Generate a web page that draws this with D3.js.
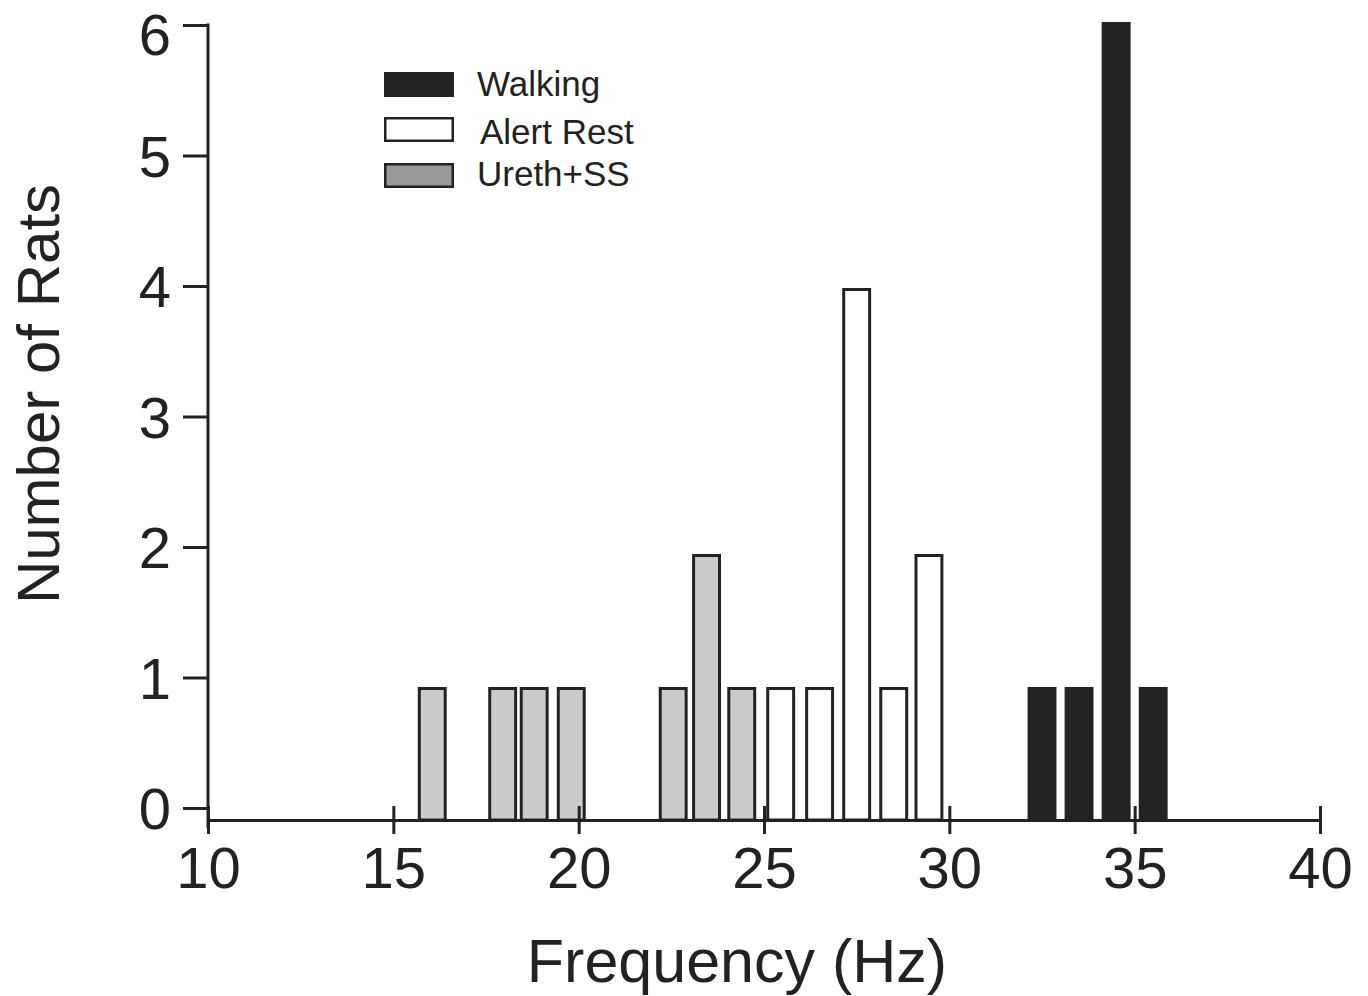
<!DOCTYPE html>
<html>
<head>
<meta charset="utf-8">
<script src="https://cdn.jsdelivr.net/npm/d3@7"></script>
<style>
  body { margin: 0; background: #fff; }
  text { font-family: "Liberation Sans", Arial, sans-serif; fill: #222; }
</style>
</head>
<body>
<div id="vis"></div>
<script>
// histogram of peak frequency per rat, three conditions
const seriesNames = ["Walking", "Alert Rest", "Ureth+SS"];
const walkingHz = [32.5, 33.5, 34.5, 35.5];
const walkingCount = [1, 1, 6, 1];
const alertHz = [25.45, 26.5, 27.5, 28.5, 29.45];
const alertCount = [1, 1, 4, 1, 2];
const urethHz = [16.05, 17.95, 18.8, 19.8, 22.55, 23.45, 24.4];
const urethCount = [1, 1, 1, 1, 1, 2, 1];
const xTicks = [10, 15, 20, 25, 30, 35, 40];
const yTicks = [0, 1, 2, 3, 4, 5, 6];

const width = 1368, height = 996;
const binWidth = 0.78; // Hz

const styles = {
  "Walking": { fill: "#222", stroke: "none", sw: 0 },
  "Alert Rest": { fill: "#fff", stroke: "#222", sw: 3 },
  "Ureth+SS": { fill: "#cbcbcb", stroke: "#222", sw: 3 }
};

var svg = d3.select("#vis").append("svg")
  .attr("width", width)
  .attr("height", height);

var x = d3.scaleLinear().domain([10, 40]).range([208, 1320]);
// tick scale and bar scale are slightly offset in the original figure
var yTick = d3.scaleLinear().domain([0, 6]).range([808, 25]);
var yBar = d3.scaleLinear().domain([0, 6]).range([820, 22]);
const baseY = 820;

// build rows for the bars
var bars = [];
function addSeries(name, hz, counts) {
  hz.forEach(function (h, i) {
    bars.push({ series: name, hz: h, count: counts[i] });
  });
}
addSeries("Ureth+SS", urethHz, urethCount);
addSeries("Alert Rest", alertHz, alertCount);
addSeries("Walking", walkingHz, walkingCount);

svg.append("g").attr("class", "bars")
  .selectAll("rect")
  .data(bars)
  .enter()
  .append("rect")
  .attr("x", function (d) { return x(d.hz - binWidth / 2) + styles[d.series].sw / 2; })
  .attr("width", function (d) { return x(d.hz + binWidth / 2) - x(d.hz - binWidth / 2) - styles[d.series].sw; })
  .attr("y", function (d) { return yBar(d.count) + styles[d.series].sw / 2; })
  .attr("height", function (d) { return baseY - yBar(d.count) - styles[d.series].sw / 2; })
  .attr("fill", function (d) { return styles[d.series].fill; })
  .attr("stroke", function (d) { return styles[d.series].stroke; })
  .attr("stroke-width", function (d) { return styles[d.series].sw; });

// x axis
var gx = svg.append("g")
  .attr("transform", "translate(0," + baseY + ")")
  .call(d3.axisBottom(x).tickValues(xTicks).tickSize(14).tickSizeOuter(0).tickPadding(10));
gx.select(".domain").attr("stroke", "#222").attr("stroke-width", 3);
gx.selectAll(".tick line").attr("y1", -14).attr("stroke", "#222").attr("stroke-width", 3);
gx.selectAll(".tick text")
  .attr("font-family", "Liberation Sans, Arial, sans-serif")
  .attr("font-size", 58)
  .attr("fill", "#222")
  .attr("dy", null)
  .attr("y", 68);

// y axis
var gy = svg.append("g")
  .attr("transform", "translate(" + x(10) + ",0)")
  .call(d3.axisLeft(yTick).tickValues(yTicks).tickSize(25).tickPadding(12).tickFormat(d3.format("d")));
gy.select(".domain").remove();
gy.selectAll(".tick line").attr("stroke", "#222").attr("stroke-width", 3);
gy.selectAll(".tick text")
  .attr("font-family", "Liberation Sans, Arial, sans-serif")
  .attr("font-size", 58)
  .attr("fill", "#222")
  .attr("dy", "0.36em");
// top label sits a little lower so it isn't clipped
gy.selectAll(".tick text").filter(function (d) { return d === 6; }).attr("y", 9);
svg.append("line")
  .attr("x1", x(10)).attr("x2", x(10))
  .attr("y1", yTick(6) - 1.5).attr("y2", baseY + 8)
  .attr("stroke", "#222").attr("stroke-width", 3);

// axis titles
svg.append("text")
  .attr("x", 737)
  .attr("y", 982)
  .attr("text-anchor", "middle")
  .attr("font-size", 61)
  .attr("fill", "#2a2a2a")
  .text("Frequency (Hz)");

svg.append("text")
  .attr("transform", "translate(59,394) rotate(-90)")
  .attr("text-anchor", "middle")
  .attr("font-size", 60)
  .attr("fill", "#2a2a2a")
  .text("Number of Rats");

// legend
const legendY = [72, 117, 163];
const legendText = [96, 144, 186];
const legendFill = { "Walking": "#222", "Alert Rest": "#fff", "Ureth+SS": "#999" };
var legend = svg.append("g").attr("class", "legend");
seriesNames.forEach(function (name, i) {
  var sw = name === "Walking" ? 0 : 2.5;
  legend.append("rect")
    .attr("x", 384 + sw / 2)
    .attr("y", legendY[i] + sw / 2)
    .attr("width", 70 - sw)
    .attr("height", 25 - sw)
    .attr("fill", legendFill[name])
    .attr("stroke", sw ? "#222" : "none")
    .attr("stroke-width", sw);
  legend.append("text")
    .attr("x", name === "Alert Rest" ? 480 : 477)
    .attr("y", legendText[i])
    .attr("font-size", 35)
    .attr("fill", "#333")
    .text(name);
});
</script>
</body>
</html>
